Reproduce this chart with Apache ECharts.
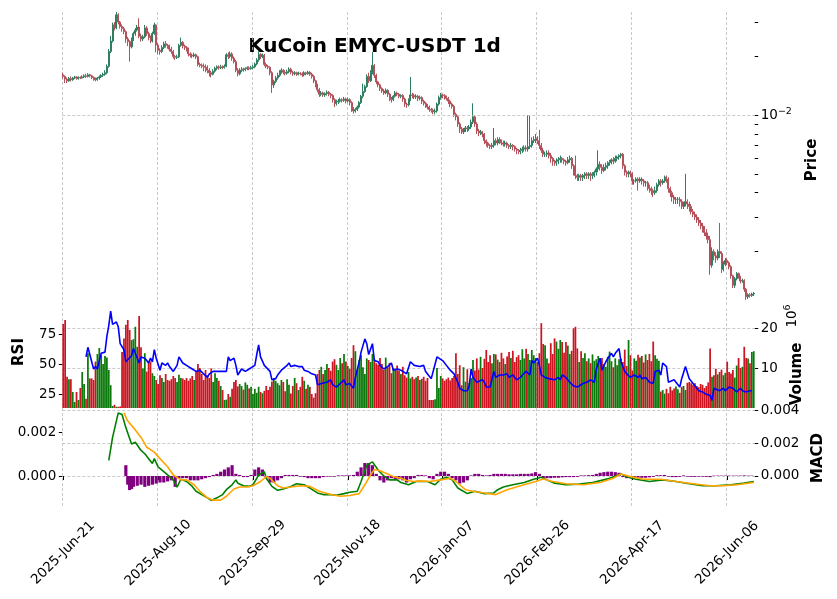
<!DOCTYPE html>
<html>
<head>
<meta charset="utf-8">
<title>KuCoin EMYC-USDT 1d</title>
<script src="https://cdn.jsdelivr.net/npm/echarts@6/dist/echarts.min.js"></script>
<style>
  html, body { margin: 0; padding: 0; background: #fff; }
  #chart { width: 837px; height: 599px; }
</style>
</head>
<body>
<div id="chart"></div>
<script>
// first day of the daily candles, and how many there are
const startDay = [2025, 5, 21];
const dayCount = 365;
const monthNames = ['Jan','Feb','Mar','Apr','May','Jun','Jul','Aug','Sep','Oct','Nov','Dec'];

// daily candles, [open, close, low, high] in USDT
const candles = [
  // 0-9
  [.0161,.0158,.0154,.0165],[.0158,.0153,.0146,.0160],[.0153,.0150,.0146,.0156],[.0150,.0154,.0148,.0157],[.0154,.0152,.0149,.0158],
  [.0152,.0155,.0150,.0157],[.0155,.0157,.0153,.0159],[.0157,.0154,.0152,.0158],[.0154,.0156,.0152,.0158],[.0156,.0155,.0153,.0158],
  // 10-19
  [.0155,.0157,.0154,.0160],[.0157,.0159,.0155,.0162],[.0159,.0158,.0155,.0163],[.0158,.0161,.0156,.0164],[.0161,.0159,.0156,.0163],
  [.0159,.0156,.0153,.0161],[.0156,.0153,.0150,.0158],[.0153,.0152,.0149,.0156],[.0152,.0155,.0150,.0157],[.0155,.0157,.0152,.0160],
  // 20-29
  [.0157,.0160,.0155,.0162],[.0160,.0162,.0157,.0165],[.0162,.0165,.0159,.0170],[.0165,.0178,.0162,.0182],[.0178,.0212,.0175,.0218],
  [.0212,.0240,.0208,.0255],[.0240,.0290,.0236,.0298],[.0290,.0280,.0272,.0300],[.0280,.0327,.0276,.0338],[.0327,.0300,.0292,.0333],
  // 30-39
  [.0300,.0285,.0278,.0304],[.0285,.0278,.0268,.0292],[.0278,.0268,.0260,.0284],[.0268,.0246,.0235,.0272],[.0246,.0238,.0226,.0252],
  [.0238,.0224,.0188,.0242],[.0224,.0245,.0220,.0250],[.0245,.0262,.0240,.0268],[.0262,.0273,.0255,.0280],[.0273,.0283,.0268,.0290],
  // 40-49
  [.0283,.0254,.0248,.0314],[.0254,.0246,.0238,.0262],[.0246,.0252,.0240,.0258],[.0252,.0280,.0248,.0290],[.0280,.0262,.0255,.0286],
  [.0262,.0250,.0242,.0268],[.0250,.0240,.0234,.0256],[.0240,.0262,.0236,.0268],[.0262,.0290,.0258,.0298],[.0290,.0229,.0210,.0292],
  // 50-59
  [.0229,.0215,.0205,.0234],[.0215,.0212,.0204,.0220],[.0212,.0222,.0208,.0228],[.0222,.0232,.0218,.0238],[.0232,.0228,.0222,.0240],
  [.0228,.0225,.0219,.0232],[.0225,.0218,.0212,.0230],[.0218,.0212,.0206,.0224],[.0212,.0200,.0195,.0216],[.0200,.0198,.0192,.0204],
  // 60-69
  [.0198,.0199,.0194,.0204],[.0199,.0228,.0196,.0232],[.0228,.0236,.0224,.0250],[.0236,.0226,.0220,.0240],[.0226,.0222,.0216,.0230],
  [.0222,.0218,.0212,.0226],[.0218,.0206,.0200,.0222],[.0206,.0203,.0198,.0210],[.0203,.0201,.0196,.0207],[.0201,.0204,.0198,.0209],
  // 70-79
  [.0204,.0199,.0194,.0207],[.0199,.0182,.0178,.0202],[.0182,.0180,.0176,.0186],[.0180,.0178,.0174,.0184],[.0178,.0176,.0168,.0184],
  [.0176,.0174,.0166,.0182],[.0174,.0170,.0164,.0180],[.0170,.0165,.0158,.0174],[.0165,.0162,.0156,.0169],[.0162,.0168,.0160,.0172],
  // 80-89
  [.0168,.0174,.0165,.0177],[.0174,.0177,.0170,.0180],[.0177,.0175,.0171,.0180],[.0175,.0177,.0172,.0181],[.0177,.0176,.0172,.0180],
  [.0176,.0178,.0173,.0182],[.0178,.0204,.0176,.0208],[.0204,.0200,.0194,.0210],[.0200,.0206,.0196,.0212],[.0206,.0196,.0190,.0210],
  // 90-99
  [.0196,.0188,.0184,.0200],[.0188,.0170,.0166,.0192],[.0170,.0163,.0158,.0174],[.0163,.0170,.0160,.0174],[.0170,.0172,.0166,.0176],
  [.0172,.0171,.0167,.0175],[.0171,.0173,.0168,.0176],[.0173,.0175,.0170,.0178],[.0175,.0173,.0170,.0178],[.0173,.0175,.0171,.0179],
  // 100-109
  [.0175,.0177,.0172,.0181],[.0177,.0183,.0174,.0186],[.0183,.0192,.0180,.0196],[.0192,.0205,.0188,.0214],[.0205,.0200,.0194,.0208],
  [.0200,.0203,.0196,.0207],[.0203,.0182,.0178,.0206],[.0182,.0178,.0174,.0186],[.0178,.0176,.0172,.0181],[.0176,.0165,.0160,.0178],
  // 110-119
  [.0165,.0143,.0130,.0168],[.0143,.0149,.0138,.0152],[.0149,.0155,.0146,.0159],[.0155,.0160,.0152,.0165],[.0160,.0166,.0157,.0170],
  [.0166,.0170,.0163,.0174],[.0170,.0166,.0162,.0172],[.0166,.0164,.0160,.0170],[.0164,.0167,.0161,.0171],[.0167,.0172,.0164,.0176],
  // 120-129
  [.0172,.0166,.0162,.0175],[.0166,.0163,.0159,.0169],[.0163,.0165,.0160,.0168],[.0165,.0162,.0159,.0167],[.0162,.0164,.0160,.0167],
  [.0164,.0163,.0160,.0166],[.0163,.0161,.0157,.0166],[.0161,.0165,.0158,.0168],[.0165,.0163,.0160,.0167],[.0163,.0166,.0161,.0169],
  // 130-139
  [.0166,.0162,.0159,.0168],[.0162,.0158,.0154,.0165],[.0158,.0150,.0146,.0161],[.0150,.0143,.0139,.0152],[.0143,.0135,.0131,.0145],
  [.0135,.0128,.0124,.0138],[.0128,.0130,.0125,.0133],[.0130,.0127,.0124,.0132],[.0127,.0129,.0124,.0131],[.0129,.0131,.0126,.0134],
  // 140-149
  [.0131,.0128,.0125,.0133],[.0128,.0126,.0122,.0130],[.0126,.0120,.0116,.0128],[.0120,.0115,.0110,.0122],[.0115,.0117,.0112,.0120],
  [.0117,.0118,.0114,.0121],[.0118,.0120,.0116,.0123],[.0120,.0119,.0116,.0122],[.0119,.0121,.0117,.0124],[.0121,.0118,.0115,.0123],
  // 150-159
  [.0118,.0120,.0116,.0123],[.0120,.0116,.0112,.0122],[.0116,.0108,.0104,.0118],[.0108,.0105,.0102,.0110],[.0105,.0107,.0103,.0109],
  [.0107,.0110,.0105,.0112],[.0110,.0116,.0108,.0118],[.0116,.0125,.0114,.0127],[.0125,.0132,.0122,.0145],[.0132,.0140,.0130,.0143],
  // 160-169
  [.0140,.0158,.0138,.0162],[.0158,.0150,.0146,.0165],[.0150,.0165,.0148,.0170],[.0165,.0180,.0162,.0211],[.0180,.0160,.0155,.0183],
  [.0160,.0148,.0144,.0163],[.0148,.0143,.0139,.0150],[.0143,.0137,.0133,.0145],[.0137,.0133,.0130,.0139],[.0133,.0130,.0127,.0136],
  // 170-179
  [.0130,.0134,.0128,.0137],[.0134,.0128,.0124,.0136],[.0128,.0122,.0118,.0130],[.0122,.0120,.0116,.0124],[.0120,.0125,.0118,.0127],
  [.0125,.0130,.0123,.0133],[.0130,.0128,.0125,.0132],[.0128,.0125,.0122,.0130],[.0125,.0126,.0122,.0128],[.0126,.0121,.0117,.0128],
  // 180-189
  [.0121,.0114,.0110,.0123],[.0114,.0113,.0109,.0116],[.0113,.0120,.0111,.0122],[.0120,.0127,.0118,.0157],[.0127,.0126,.0122,.0130],
  [.0126,.0124,.0121,.0129],[.0124,.0125,.0121,.0128],[.0125,.0122,.0118,.0127],[.0122,.0123,.0119,.0126],[.0123,.0118,.0114,.0125],
  // 190-199
  [.0118,.0115,.0112,.0120],[.0115,.0112,.0109,.0117],[.0112,.0110,.0107,.0114],[.0110,.0107,.0104,.0112],[.0107,.0106,.0103,.0109],
  [.0106,.0104,.0101,.0108],[.0104,.0105,.0101,.0108],[.0105,.0114,.0103,.0116],[.0114,.0123,.0112,.0126],[.0123,.0127,.0120,.0130],
  // 200-209
  [.0127,.0126,.0122,.0129],[.0126,.0124,.0120,.0128],[.0124,.0122,.0119,.0126],[.0122,.0118,.0114,.0124],[.0118,.0114,.0110,.0120],
  [.0114,.0111,.0108,.0116],[.0111,.0101,.0098,.0113],[.0101,.0098,.0094,.0103],[.0098,.0090,.0087,.0100],[.0090,.0085,.0081,.0092],
  // 210-219
  [.0085,.0082,.0080,.0087],[.0082,.0084,.0080,.0086],[.0084,.0086,.0082,.0088],[.0086,.0085,.0082,.0088],[.0085,.0087,.0083,.0089],
  [.0087,.0092,.0085,.0095],[.0092,.0098,.0090,.0115],[.0098,.0090,.0087,.0100],[.0090,.0083,.0080,.0092],[.0083,.0081,.0078,.0085],
  // 220-229
  [.0081,.0082,.0079,.0084],[.0082,.0080,.0077,.0083],[.0080,.0074,.0071,.0081],[.0074,.0072,.0069,.0075],[.0072,.0070,.0068,.0073],
  [.0070,.0069,.0067,.0071],[.0069,.0070,.0067,.0072],[.0070,.0074,.0068,.0086],[.0074,.0072,.0070,.0076],[.0072,.0075,.0070,.0077],
  // 230-239
  [.0075,.0073,.0071,.0077],[.0073,.0072,.0070,.0075],[.0072,.0071,.0069,.0074],[.0071,.0072,.0069,.0074],[.0072,.0070,.0068,.0073],
  [.0070,.0069,.0067,.0071],[.0069,.0070,.0067,.0072],[.0070,.0069,.0066,.0071],[.0069,.0067,.0065,.0070],[.0067,.0066,.0063,.0068],
  // 240-249
  [.0066,.0065,.0063,.0067],[.0065,.0066,.0063,.0068],[.0066,.0067,.0064,.0069],[.0067,.0068,.0065,.0070],[.0068,.0067,.0065,.0070],
  [.0067,.0069,.0065,.0100],[.0069,.0070,.0067,.0100],[.0070,.0074,.0068,.0077],[.0074,.0075,.0072,.0078],[.0075,.0076,.0072,.0080],
  // 250-259
  [.0076,.0074,.0071,.0078],[.0074,.0070,.0067,.0084],[.0070,.0066,.0064,.0072],[.0066,.0063,.0061,.0068],[.0063,.0063,.0061,.0065],
  [.0063,.0064,.0061,.0066],[.0064,.0062,.0060,.0066],[.0062,.0060,.0057,.0064],[.0060,.0058,.0055,.0061],[.0058,.0057,.0055,.0059],
  // 260-269
  [.0057,.0058,.0055,.0060],[.0058,.0059,.0056,.0061],[.0059,.0060,.0057,.0062],[.0060,.0059,.0057,.0061],[.0059,.0058,.0056,.0060],
  [.0058,.0057,.0055,.0059],[.0057,.0059,.0056,.0061],[.0059,.0060,.0057,.0062],[.0060,.0055,.0053,.0061],[.0055,.0051,.0049,.0056],
  // 270-279
  [.0051,.0049,.0047,.0062],[.0049,.0048,.0046,.0050],[.0048,.0049,.0046,.0050],[.0049,.0048,.0046,.0050],[.0048,.0049,.0046,.0050],
  [.0049,.0050,.0047,.0051],[.0050,.0049,.0047,.0051],[.0049,.0050,.0047,.0051],[.0050,.0049,.0046,.0051],[.0049,.0050,.0047,.0051],
  // 280-289
  [.0050,.0051,.0048,.0052],[.0051,.0053,.0049,.0054],[.0053,.0056,.0051,.0066],[.0056,.0054,.0052,.0058],[.0054,.0052,.0050,.0056],
  [.0052,.0054,.0051,.0056],[.0054,.0055,.0052,.0057],[.0055,.0057,.0053,.0058],[.0057,.0058,.0055,.0059],[.0058,.0059,.0056,.0060],
  // 290-299
  [.0059,.0058,.0056,.0061],[.0058,.0060,.0057,.0062],[.0060,.0061,.0058,.0062],[.0061,.0062,.0059,.0063],[.0062,.0063,.0060,.0064],
  [.0063,.0055,.0053,.0064],[.0055,.0051,.0049,.0056],[.0051,.0050,.0048,.0052],[.0050,.0051,.0048,.0052],[.0051,.0050,.0048,.0052],
  // 300-309
  [.0050,.0046,.0044,.0051],[.0046,.0046,.0044,.0047],[.0046,.0047,.0045,.0048],[.0047,.0046,.0041,.0048],[.0046,.0047,.0045,.0048],
  [.0047,.0046,.0044,.0048],[.0046,.0045,.0043,.0047],[.0045,.0045,.0043,.0046],[.0045,.0043,.0041,.0046],[.0043,.0042,.0040,.0044],
  // 310-319
  [.0042,.0041,.0039,.0043],[.0041,.0040,.0038,.0042],[.0040,.0041,.0039,.0043],[.0041,.0044,.0040,.0045],[.0044,.0046,.0043,.0047],
  [.0046,.0045,.0043,.0047],[.0045,.0046,.0044,.0047],[.0046,.0048,.0045,.0049],[.0048,.0047,.0045,.0049],[.0047,.0042,.0040,.0048],
  // 320-329
  [.0042,.0040,.0038,.0043],[.0040,.0038,.0036,.0041],[.0038,.0037,.0035,.0039],[.0037,.0037,.0035,.0038],[.0037,.0037,.0035,.0038],
  [.0037,.0036,.0034,.0038],[.0036,.0034,.0033,.0037],[.0034,.0035,.0033,.0036],[.0035,.0036,.0034,.0050],[.0036,.0035,.0033,.0037],
  // 330-339
  [.0035,.0034,.0032,.0036],[.0034,.0032,.0031,.0035],[.0032,.0031,.0030,.0033],[.0031,.0030,.0029,.0032],[.0030,.0029,.0028,.0031],
  [.0029,.0028,.0027,.0030],[.0028,.0027,.0026,.0029],[.0027,.0026,.0025,.0028],[.0026,.0025,.0024,.0027],[.0025,.0024,.0023,.0026],
  // 340-349
  [.0024,.0023,.0022,.0025],[.0023,.00170,.00152,.0024],[.00170,.00200,.00165,.00210],[.00200,.00190,.00180,.00205],[.00190,.00185,.00175,.00198],
  [.00185,.00200,.00180,.00205],[.00200,.00195,.00185,.00280],[.00195,.00162,.00155,.00200],[.00162,.00172,.00158,.00178],[.00172,.00180,.00168,.00185],
  // 350-359
  [.00180,.00175,.00170,.00184],[.00175,.00167,.00162,.00178],[.00167,.00150,.00145,.00170],[.00150,.00134,.00130,.00152],[.00134,.00145,.00130,.00148],
  [.00145,.00154,.00142,.00157],[.00154,.00148,.00145,.00156],[.00148,.00141,.00137,.00150],[.00141,.00142,.00138,.00145],[.00142,.00128,.00124,.00144],
  // 360-364
  [.00128,.00117,.00113,.00130],[.00117,.00120,.00114,.00122],[.00120,.00119,.00116,.00122],[.00119,.00121,.00117,.00123],[.00121,.00122,.00118,.00124]
];

// daily volume, millions
const volumes = [
  21,22,7.8,7.2,7.2,4,1.5,4,2,5,
  9,6,2.3,13.7,7.4,7.4,7,11.6,13.5,15,
  13.3,11,13,12.6,9.5,5.7,0.5,0.8,0.3,0.3,
  0.4,14,17.4,20.8,22,19.5,17,17.2,20.3,15.3,
  23,15.2,9.9,13.7,9.1,11.6,11.6,8.7,8,7,
  6,8.2,7.5,6.5,8.5,7,6.8,7.2,8,7.5,
  6.5,8.3,7.5,7.4,7,7.5,6.8,7.4,8,7,
  9,11,10,8.5,7,9.5,8.2,7.5,9.9,6.5,
  8.7,7.5,6.8,5.5,4.5,2,2.1,3.5,2.8,4.8,
  6.5,7,5.4,6,5.5,4.6,6.4,5.8,4.9,5.3,
  3.5,4.8,3.8,5.3,4,3.7,4.3,5.5,4.5,5.3,
  6.6,7.5,6.8,6.2,5.7,7,6.5,4.2,7.2,5.8,
  3.6,5.5,7.5,6.2,4.5,5.3,7.8,6.8,4.8,5.8,
  5.3,3.5,2.6,3.7,8.5,9.5,10.3,8.5,9.5,11,
  10,9.3,11.6,12.2,10.8,9.5,12.5,11.2,13.5,11.6,
  10.5,9.8,12.5,15.7,14.2,9.5,12,13.2,10.2,8.5,
  12.4,12,11.5,13.5,12.3,11.2,10.8,12.5,11,9.5,
  12.6,10.2,11.3,8.7,10,9.8,10.6,9.3,8.5,10.3,
  8.2,7.6,9,7.4,7.8,7.2,7.6,8,7,7.3,
  7.8,6.8,7.5,2,2,2,2.2,10,5,8,
  7.4,6.8,7.2,7.6,6.9,7.5,8,13.7,8.5,10.7,
  5.7,10.2,6.6,9.7,6.3,7.5,12,9.4,12.4,9.6,
  12.8,10,12.3,14.5,11.5,13.2,11.2,13.5,13.4,12.1,
  11.5,13.8,12.4,11,12.9,14,12.5,14.3,11.5,12.7,
  13.2,12,14.7,12.4,14.8,13.5,12,14.5,13.2,12.5,
  11.5,13.7,21.2,16,15.7,12.4,11.2,16.2,13.5,17.4,
  16.6,14.8,17,16.5,13.8,16.5,15.6,13.5,14.3,19.9,
  20.3,14.9,11.5,14.2,12.5,13.7,11.7,12.4,11.2,13.4,
  11.8,12.2,13,11.5,12.5,11,10.3,12.8,14.1,11.7,
  10.2,12.4,10.7,12.2,12.4,11.5,14.6,10.5,17,13.2,
  9.4,12.4,11.8,13.3,12.6,13,11.4,13.4,12,13.5,
  11.7,16.6,13.2,12.3,11.8,4.1,4.5,3.6,4.8,3.7,
  5.3,4.4,4.9,5.4,4.7,3.8,5.3,5.5,4.5,6.3,
  6.5,6.2,5.8,6.2,5.5,5.2,6,5.8,5,5.5,
  6.4,14.9,7.8,8.2,9.8,8.4,9,9.6,8.2,8.8,
  11.6,9,8.6,9.5,7.6,10.6,12.5,10,10.3,15.3,
  12.5,12.4,11.2,14,14.2
];

// RSI, [day index, value]
const rsiPoints = [
  [12,56],[13,64],[15,52],[16,46],[17,48],[18,46],[19,53],[20,59],[22,60],[23,73],[24,82],[25,94],[26,83],[28,85],[29,81],
  [30,67],[32,62],[33,52],[34,52],[36,57],[37,63],[38,62],[40,51],[41,56],[43,55],[44,53],[45,51],[46,55],[47,52],[48,62],
  [49,55],[51,45],[52,51],[54,49],[55,51],[56,48],[58,44],[60,49],[61,56],[63,51],[64,52],[66,48],[68,46],[70,44],[72,45],
  [74,42],[76,39],[77,42],[79,44],[81,44],[84,44],[86,44],[87,56],[88,53],[90,55],[91,49],[92,41],[94,46],[95,45],[96,44],
  [98,46],[99,46],[101,49],[102,58],[103,66],[104,56],[106,49],[107,48],[109,44],[110,37],[112,38],[113,41],[115,45],[116,44],
  [118,49],[119,51],[120,48],[122,49],[124,48],[126,48],[127,45],[129,44],[131,42],[133,41],[134,33],[136,34],[137,33],
  [139,35],[141,37],[142,33],[144,31],[146,34],[148,37],[149,33],[151,34],[153,30],[154,39],[156,52],[157,60],[159,71],
  [160,67],[161,58],[163,67],[164,53],[166,52],[167,49],[169,46],[171,48],[173,51],[174,45],[176,46],[178,45],[179,44],
  [181,42],[183,52],[185,49],[188,48],[190,49],[191,44],[192,45],[194,38],[195,39],[197,56],[198,55],[200,53],[201,52],
  [202,49],[203,48],[204,45],[205,46],[206,42],[208,35],[209,30],[211,28],[213,28],[214,32],[215,46],[216,39],[218,35],
  [219,35],[221,37],[222,35],[223,31],[224,32],[225,31],[227,44],[228,39],[229,38],[230,41],[232,41],[234,42],[235,39],
  [237,41],[239,37],[241,39],[242,41],[244,44],[246,41],[247,53],[248,51],[250,55],[251,49],[252,41],[254,39],[256,38],
  [257,39],[259,37],[261,39],[262,37],[263,41],[265,39],[266,38],[267,35],[269,32],[271,31],[272,32],[274,34],[276,35],
  [278,37],[279,38],[280,35],[281,46],[283,55],[284,45],[285,46],[286,52],[288,57],[289,59],[290,56],[291,59],[293,63],
  [294,52],[296,44],[297,42],[299,39],[300,39],[301,41],[303,39],[304,41],[305,38],[307,39],[308,37],[309,35],[311,34],
  [312,44],[314,45],[315,41],[316,51],[318,48],[319,35],[320,35],[322,37],[323,35],[325,31],[326,38],[328,48],[330,38],
  [331,37],[333,32],[335,28],[337,27],[339,25],[341,24],[342,20],[343,30],[344,31],[346,28],[348,30],[349,28],[351,31],
  [353,30],[355,27],[357,30],[358,28],[360,27],[362,28],[363,28]
];

// MACD line (green), [day index, value]
const macdPoints = [
  [24,.00096],[26,.00236],[29,.00386],[31,.00376],[33,.00296],[36,.00196],[38,.00206],[39,.00196],[41,.00156],[43,.00136],
  [45,.00106],[47,.00076],[48,.00106],[50,.00056],[53,.00026],[55,.00006],[56,-.00004],[58,-.00024],[60,-.00068],[62,-.0002],
  [65,-.00034],[68,-.00064],[70,-.00094],[73,-.00114],[76,-.00134],[78,-.0015],[81,-.00134],[84,-.00114],[86,-.00084],[89,-.00054],
  [91,-.00024],[92,-.00044],[95,-.0006],[98,-.00064],[100,-.00054],[103,.00006],[106,.00026],[107,-.00014],[110,-.00064],[113,-.00088],
  [116,-.0008],[120,-.00064],[123,-.00048],[127,-.00054],[130,-.00074],[134,-.00104],[137,-.00114],[141,-.00114],[144,-.00118],[148,-.00108],
  [151,-.001],[155,-.00094],[157,-.00034],[160,.00066],[163,.00086],[164,.00086],[166,.00036],[169,0],[172,-.00024],[176,-.00024],
  [178,-.0004],[182,-.00054],[186,-.00034],[192,-.00034],[196,-.00054],[199,-.0002],[202,-.00008],[205,-.00024],[208,-.00074],[213,-.00108],
  [217,-.00094],[222,-.00108],[227,-.00104],[229,-.00084],[232,-.00068],[237,-.00054],[243,-.0004],[248,-.0002],[252,-.00008],[255,-.00024],
  [259,-.00044],[265,-.00054],[272,-.0005],[279,-.0004],[287,-.00018],[294,.00012],[297,-.00004],[302,-.0002],[309,-.00034],[316,-.00024],
  [323,-.00034],[330,-.00048],[337,-.0006],[344,-.0006],[352,-.00054],[359,-.00044],[364,-.00034]
];

// signal line (orange), [day index, value]
const signalPoints = [
  [32,.00386],[34,.00336],[37,.00296],[41,.00236],[44,.00176],[48,.00146],[51,.00106],[55,.00056],[58,.00006],[62,-.00024],
  [65,-.00024],[69,-.00054],[72,-.00094],[76,-.00134],[79,-.00148],[83,-.00148],[86,-.00124],[90,-.0008],[93,-.00068],[97,-.00068],
  [100,-.0006],[104,-.00034],[107,-.00004],[109,-.00014],[113,-.0006],[116,-.00074],[120,-.00068],[125,-.0006],[130,-.00064],[135,-.00094],
  [141,-.00114],[146,-.00124],[151,-.0012],[156,-.00108],[159,-.00054],[162,.00006],[164,.0004],[167,.00032],[171,.00012],[174,-.00004],
  [178,-.00014],[181,-.00028],[185,-.00034],[188,-.0003],[193,-.00034],[199,-.00024],[204,-.00014],[207,-.00034],[212,-.00084],[216,-.00094],
  [222,-.00104],[228,-.00114],[234,-.00084],[241,-.0006],[249,-.00034],[253,-.00018],[258,-.00034],[265,-.00048],[274,-.00054],[283,-.0004],
  [290,-.00014],[294,.00012],[299,-.00004],[306,-.0002],[315,-.0002],[323,-.00034],[332,-.00048],[341,-.0006],[348,-.0006],[355,-.00054],
  [364,-.0004]
];

// MACD histogram (purple), [day index, value]
const histPoints = [
  [33,.0005],[34,-.0004],[35,-.00065],[36,-.0006],[37,-.0005],[39,-.00045],[41,-.0004],[43,-.0005],[45,-.00045],[47,-.0004],
  [49,-.00035],[51,-.0003],[53,-.0003],[55,-.00025],[57,-.0002],[59,-.0005],[61,-.0001],[63,-.0001],[65,-.0001],[67,-.0002],
  [69,-.0002],[71,-.0002],[73,-.00015],[75,-.0001],[77,-.00005],[79,.00005],[81,.0001],[83,.0002],[85,.0003],[87,.0004],
  [89,.0005],[91,.0001],[93,.00005],[95,-.00005],[97,-.00005],[99,.00005],[101,.0003],[103,.0004],[105,.0003],[107,-.0001],
  [109,-.0003],[111,-.0003],[113,-.0002],[115,-.0001],[117,.00005],[119,.00005],[121,.00005],[123,.00005],[125,-.00003],[127,-.00005],
  [129,-.0001],[131,-.0001],[133,-.0001],[135,-.0001],[137,-.00005],[139,-.00003],[141,-.00003],[143,-.00003],[145,.00003],[147,.00003],
  [149,.00003],[151,.00003],[153,.00005],[155,.0002],[157,.0004],[159,.0006],[161,.0006],[163,.0005],[165,.0001],[167,-.0002],
  [169,-.0003],[171,-.0002],[173,-.0001],[175,-.00015],[177,-.00015],[179,-.0002],[181,-.0003],[183,-.00015],[185,-.0001],[187,.00005],
  [189,.00005],[191,.00003],[193,-.0001],[195,-.00015],[197,.0001],[199,.0002],[201,.0002],[203,.0001],[205,-.0001],[207,-.0002],
  [209,-.00035],[211,-.0003],[213,-.0002],[215,.00003],[217,.0001],[219,.0001],[221,.00005],[223,.00003],[225,.00005],[227,.0001],
  [229,.0001],[231,.0001],[233,.0001],[235,.00008],[237,.00008],[239,.00008],[241,.0001],[243,.0001],[245,.0001],[247,.00012],
  [249,.00018],[251,.0001],[253,-.0001],[255,-.0001],[257,-.0001],[259,-.00008],[261,-.00008],[263,-.00006],[265,-.00005],[267,-.00005],
  [269,-.00005],[271,-.00004],[273,.00003],[275,.00003],[277,.00004],[279,.00005],[281,.0001],[283,.00015],[285,.00018],[287,.0002],
  [289,.0002],[291,.00018],[293,.00015],[295,-.00005],[297,-.0001],[299,-.0001],[301,-.00008],[303,-.00008],[305,-.00008],[307,-.00008],
  [309,-.00006],[311,-.00004],[313,.00004],[315,.00004],[317,.00005],[319,-.00003],[321,-.00005],[323,-.00005],[325,-.00004],[327,.00003],
  [329,-.00003],[331,-.00004],[333,-.00004],[335,-.00003],[337,-.00003],[339,-.00004],[341,-.00005],[343,.00002],[345,.00002],[347,.00002],
  [349,.00002],[351,.00002],[353,.00002],[355,.00002],[357,.00002],[359,.00003],[361,.00002],[363,.00002]
];

const priceTicks = [.002,.003,.004,.005,.006,.007,.008,.009,.01,.02,.03];
const volumeTicks = [10, 20];

const upCandle = '#2e7f60', downCandle = '#b4505a';
const upVol = '#0b7a0b', downVol = '#cc1520';
const gridColor = '#bdbdbd';
const font = 'DejaVu Sans';

const dates = [];
const d0 = Date.UTC(startDay[0], startDay[1], startDay[2]);
for (let i = 0; i < dayCount; i++) {
  const d = new Date(d0 + i * 86400000);
  dates.push(d.getUTCFullYear() + '-' + monthNames[d.getUTCMonth()] + '-' + String(d.getUTCDate()).padStart(2, '0'));
}

const volData = volumes.map((v, i) => ({
  value: v,
  itemStyle: { color: candles[i][1] >= candles[i][0] ? upVol : downVol }
}));

const gridLine = { color: gridColor, type: [3, 2], width: 0.8 };
const tickStyle = { show: true, length: 3.5, lineStyle: { color: '#000', width: 1 } };
const labelStyle = { color: '#000', fontSize: 13.5, fontFamily: font };
const powerRich = {
  b: { fontSize: 13.5, fontFamily: font, color: '#000' },
  s: { fontSize: 9.5, fontFamily: font, color: '#000', padding: [0, 0, 8, 0] }
};

const plotLeft = 62.3, plotWidth = 692.4;

function xAxis(gridIndex, showLabels) {
  return {
    type: 'category', gridIndex: gridIndex, data: dates, boundaryGap: true,
    axisLine: { show: false },
    axisTick: showLabels ? { show: true, interval: 49, alignWithLabel: true, length: 4, lineStyle: { color: '#000' } } : { show: false },
    axisLabel: showLabels ? {
      show: true, interval: 49, rotate: 45, align: 'center', verticalAlign: 'middle', margin: 46,
      color: '#000', fontSize: 13.5, fontFamily: font
    } : { show: false },
    splitLine: { show: true, interval: 49, showMaxLine: false, lineStyle: gridLine }
  };
}

const chart = echarts.init(document.getElementById('chart'), null, { renderer: 'canvas' });
chart.setOption({
  animation: false,
  backgroundColor: '#fff',
  grid: [
    { left: plotLeft, width: plotWidth, top: 12, height: 294 },
    { left: plotLeft, width: plotWidth, top: 308, height: 100 },
    { left: plotLeft, width: plotWidth, top: 408, height: 99 }
  ],
  xAxis: [xAxis(0, false), xAxis(1, false), xAxis(2, true)],
  yAxis: [
    { // price, log scale
      type: 'log', logBase: 10, gridIndex: 0, position: 'right', min: .00105, max: .0338,
      axisLine: { show: false },
      axisTick: Object.assign({ customValues: priceTicks }, tickStyle),
      axisLabel: Object.assign({ customValues: [.01], margin: 6, formatter: () => '{b|10}{s|\u22122}', rich: powerRich }, labelStyle),
      splitLine: { show: false }
    },
    { // RSI
      type: 'value', gridIndex: 1, position: 'left', min: 13.64, max: 96.6,
      axisLine: { show: false },
      axisTick: Object.assign({ customValues: [25, 50, 75] }, tickStyle),
      axisLabel: Object.assign({ customValues: [25, 50, 75], margin: 6 }, labelStyle),
      splitLine: { show: false }
    },
    { // volume, millions
      type: 'value', gridIndex: 1, position: 'right', min: 0, max: 25,
      axisLine: { show: false },
      axisTick: Object.assign({ customValues: volumeTicks }, tickStyle),
      axisLabel: Object.assign({ customValues: volumeTicks, margin: 6 }, labelStyle),
      splitLine: { show: false }
    },
    { // MACD histogram scale
      type: 'value', gridIndex: 2, position: 'left', min: -0.00143, max: 0.00314,
      axisLine: { show: false },
      axisTick: Object.assign({ customValues: [0, .002] }, tickStyle),
      axisLabel: Object.assign({ customValues: [0, .002], margin: 6, formatter: v => v.toFixed(3) }, labelStyle),
      splitLine: { show: false }
    },
    { // MACD lines scale
      type: 'value', gridIndex: 2, position: 'right', min: -0.0019, max: 0.00416,
      axisLine: { show: false },
      axisTick: Object.assign({ customValues: [0, .002, .004] }, tickStyle),
      axisLabel: Object.assign({ customValues: [0, .002, .004], margin: 6, formatter: v => v.toFixed(3) }, labelStyle),
      splitLine: { show: true, lineStyle: gridLine }
    }
  ],
  series: [
    {
      type: 'candlestick', xAxisIndex: 0, yAxisIndex: 0, data: candles, barWidth: 1.5,
      itemStyle: { color: upCandle, color0: downCandle, borderColor: upCandle, borderColor0: downCandle, borderWidth: 1 },
      markLine: {
        silent: true, symbol: 'none', label: { show: false },
        lineStyle: gridLine,
        data: [{ yAxis: 0.01 }]
      }
    },
    {
      type: 'bar', xAxisIndex: 1, yAxisIndex: 2, data: volData, barWidth: 1.75,
      markLine: {
        silent: true, symbol: 'none', label: { show: false }, z: 1,
        lineStyle: gridLine,
        data: volumeTicks.map(v => ({ yAxis: v }))
      }
    },
    {
      type: 'line', xAxisIndex: 1, yAxisIndex: 1, data: rsiPoints, showSymbol: false, z: 5,
      lineStyle: { color: '#0000ff', width: 1.6 }
    },
    {
      type: 'bar', xAxisIndex: 2, yAxisIndex: 3, data: histPoints, barWidth: 3.2,
      itemStyle: { color: '#800080' }
    },
    {
      type: 'line', xAxisIndex: 2, yAxisIndex: 4, data: macdPoints, showSymbol: false, z: 5,
      lineStyle: { color: '#008000', width: 1.6 }
    },
    {
      type: 'line', xAxisIndex: 2, yAxisIndex: 4, data: signalPoints, showSymbol: false, z: 6,
      lineStyle: { color: '#ffa500', width: 1.6 }
    }
  ],
  graphic: [
    // gap between the price and the RSI/volume panels
    { type: 'rect', z: 100, shape: { x: 56, y: 306.6, width: 706, height: 2.2 }, style: { fill: '#fff' } },
    { type: 'text', x: 374.5, y: 47, style: { text: 'KuCoin EMYC-USDT 1d', align: 'center', verticalAlign: 'middle', fill: '#000', font: 'bold 20px "DejaVu Sans"' } },
    { type: 'text', x: 812, y: 160, rotation: Math.PI / 2, style: { text: 'Price', align: 'center', verticalAlign: 'middle', fill: '#000', font: 'bold 15px "DejaVu Sans"' } },
    { type: 'text', x: 19, y: 352, rotation: Math.PI / 2, style: { text: 'RSI', align: 'center', verticalAlign: 'middle', fill: '#000', font: 'bold 15px "DejaVu Sans"' } },
    { type: 'text', x: 797, y: 374, rotation: Math.PI / 2, style: { text: 'Volume', align: 'center', verticalAlign: 'middle', fill: '#000', font: 'bold 15px "DejaVu Sans"' } },
    { type: 'text', x: 792, y: 316, rotation: Math.PI / 2, style: { text: '{b|10}{s|6}', rich: powerRich, align: 'center', verticalAlign: 'middle' } },
    { type: 'text', x: 818, y: 458, rotation: Math.PI / 2, style: { text: 'MACD', align: 'center', verticalAlign: 'middle', fill: '#000', font: 'bold 15px "DejaVu Sans"' } }
  ]
});
</script>
</body>
</html>
